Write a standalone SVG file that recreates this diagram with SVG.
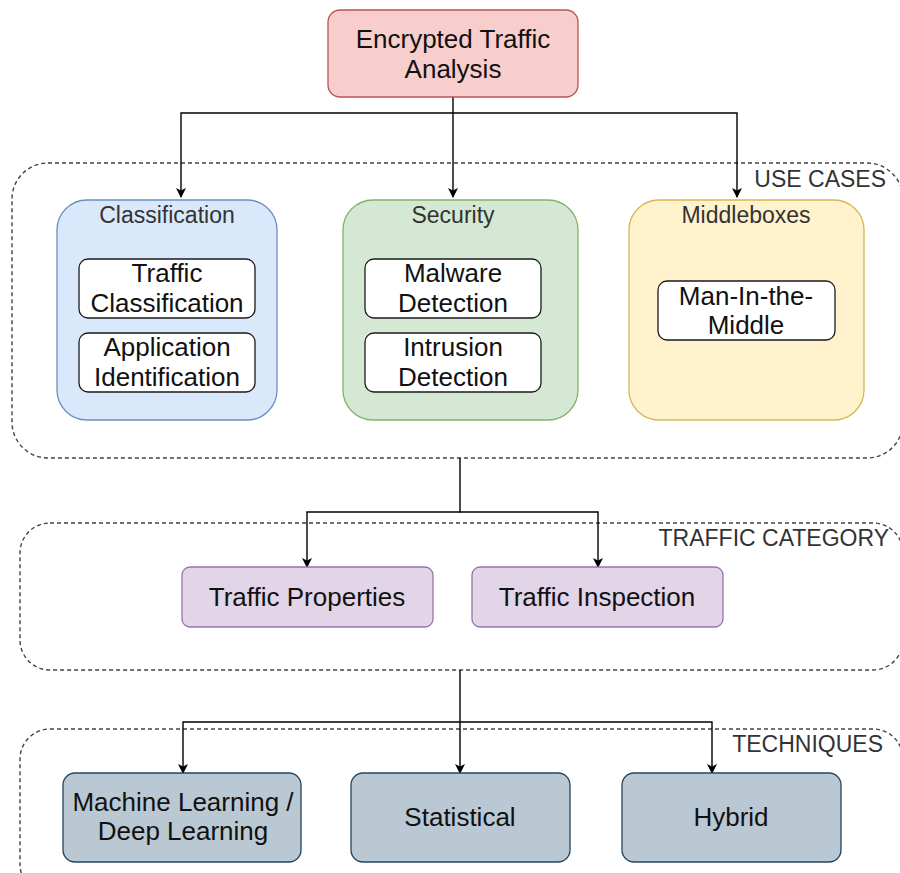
<svg xmlns="http://www.w3.org/2000/svg" width="900" height="873" viewBox="0 0 900 873">
  <style>
    .lbl { font-family: "Liberation Sans", Arial, sans-serif; fill: #111111; text-anchor: middle; font-size: 26px; }
    .ttl { font-family: "Liberation Sans", Arial, sans-serif; fill: #333333; text-anchor: middle; font-size: 23px; }
    .tag { font-family: "Liberation Sans", Arial, sans-serif; fill: #333333; text-anchor: end; font-size: 23px; }
    .zone { fill: none; stroke: #444444; stroke-width: 1.4; stroke-dasharray: 4 3; }
    .inner { fill: #ffffff; stroke: #1a1a1a; stroke-width: 1.3; }
    .edge { fill: none; stroke: #000000; stroke-width: 1.4; }
  </style>
  <defs>
    <marker id="arrow" viewBox="0 0 10 10" refX="9" refY="5" markerWidth="10" markerHeight="10" markerUnits="userSpaceOnUse" orient="auto">
      <path d="M0,0 L10,5 L0,10 L2.5,5 Z" fill="#000000"/>
    </marker>
  </defs>
  <rect width="900" height="873" fill="#ffffff"/>

  <!-- dashed layer containers -->
  <g id="zone-use-cases">
    <rect class="zone" x="12" y="163" width="891" height="295" rx="36"/>
    <text class="tag" x="886" y="187">USE CASES</text>
  </g>
  <g id="zone-traffic-category">
    <rect class="zone" x="20" y="523" width="883" height="147" rx="30"/>
    <text class="tag" x="889" y="546">TRAFFIC CATEGORY</text>
  </g>
  <g id="zone-techniques">
    <rect class="zone" x="20" y="729" width="883" height="165" rx="30"/>
    <text class="tag" x="883" y="752">TECHNIQUES</text>
  </g>

  <!-- connectors -->
  <g id="connectors">
    <path class="edge" d="M453,97 V197" marker-end="url(#arrow)"/>
    <path class="edge" d="M453,113 H181 V197" marker-end="url(#arrow)"/>
    <path class="edge" d="M453,113 H737 V197" marker-end="url(#arrow)"/>
    <path class="edge" d="M460,458 V512 H307 V567" marker-end="url(#arrow)"/>
    <path class="edge" d="M460,512 H598 V567" marker-end="url(#arrow)"/>
    <path class="edge" d="M460,670 V773" marker-end="url(#arrow)"/>
    <path class="edge" d="M460,722 H183 V773" marker-end="url(#arrow)"/>
    <path class="edge" d="M460,722 H712 V773" marker-end="url(#arrow)"/>
  </g>

  <!-- root -->
  <g id="encrypted-traffic-analysis">
    <rect x="328" y="10" width="250" height="87" rx="12" fill="#f8cecc" stroke="#b85450" stroke-width="1.3"/>
    <text class="lbl" x="453" y="48">Encrypted Traffic</text>
    <text class="lbl" x="453" y="78">Analysis</text>
  </g>

  <!-- use cases -->
  <g id="classification">
    <rect x="57" y="200" width="220" height="220" rx="30" fill="#dae8fc" stroke="#6c8ebf" stroke-width="1.3"/>
    <text class="ttl" x="167" y="223">Classification</text>
    <g id="traffic-classification">
      <rect class="inner" x="79" y="259" width="176" height="59" rx="9"/>
      <text class="lbl" x="167" y="282">Traffic</text>
      <text class="lbl" x="167" y="312">Classification</text>
    </g>
    <g id="application-identification">
      <rect class="inner" x="79" y="333" width="176" height="59" rx="9"/>
      <text class="lbl" x="167" y="356">Application</text>
      <text class="lbl" x="167" y="386">Identification</text>
    </g>
  </g>

  <g id="security">
    <rect x="343" y="200" width="235" height="220" rx="30" fill="#d5e8d4" stroke="#82b366" stroke-width="1.3"/>
    <text class="ttl" x="453" y="223">Security</text>
    <g id="malware-detection">
      <rect class="inner" x="365" y="259" width="176" height="59" rx="9"/>
      <text class="lbl" x="453" y="282">Malware</text>
      <text class="lbl" x="453" y="312">Detection</text>
    </g>
    <g id="intrusion-detection">
      <rect class="inner" x="365" y="333" width="176" height="59" rx="9"/>
      <text class="lbl" x="453" y="356">Intrusion</text>
      <text class="lbl" x="453" y="386">Detection</text>
    </g>
  </g>

  <g id="middleboxes">
    <rect x="629" y="200" width="235" height="220" rx="30" fill="#fff2cc" stroke="#d6b656" stroke-width="1.3"/>
    <text class="ttl" x="746" y="223">Middleboxes</text>
    <g id="man-in-the-middle">
      <rect class="inner" x="658" y="281" width="177" height="59" rx="9"/>
      <text class="lbl" x="746" y="305">Man-In-the-</text>
      <text class="lbl" x="746" y="334">Middle</text>
    </g>
  </g>

  <!-- traffic category -->
  <g id="traffic-properties">
    <rect x="182" y="567" width="251" height="60" rx="8" fill="#e1d5e7" stroke="#9673a6" stroke-width="1.3"/>
    <text class="lbl" x="307" y="606">Traffic Properties</text>
  </g>
  <g id="traffic-inspection">
    <rect x="472" y="567" width="251" height="60" rx="8" fill="#e1d5e7" stroke="#9673a6" stroke-width="1.3"/>
    <text class="lbl" x="597" y="606">Traffic Inspection</text>
  </g>

  <!-- techniques -->
  <g id="ml-dl">
    <rect x="63" y="773" width="238" height="89" rx="12" fill="#bac8d3" stroke="#23445d" stroke-width="1.3"/>
    <text class="lbl" x="183" y="811">Machine Learning /</text>
    <text class="lbl" x="183" y="840">Deep Learning</text>
  </g>
  <g id="statistical">
    <rect x="351" y="773" width="219" height="89" rx="12" fill="#bac8d3" stroke="#23445d" stroke-width="1.3"/>
    <text class="lbl" x="460" y="826">Statistical</text>
  </g>
  <g id="hybrid">
    <rect x="622" y="773" width="219" height="89" rx="12" fill="#bac8d3" stroke="#23445d" stroke-width="1.3"/>
    <text class="lbl" x="731" y="826">Hybrid</text>
  </g>
</svg>
